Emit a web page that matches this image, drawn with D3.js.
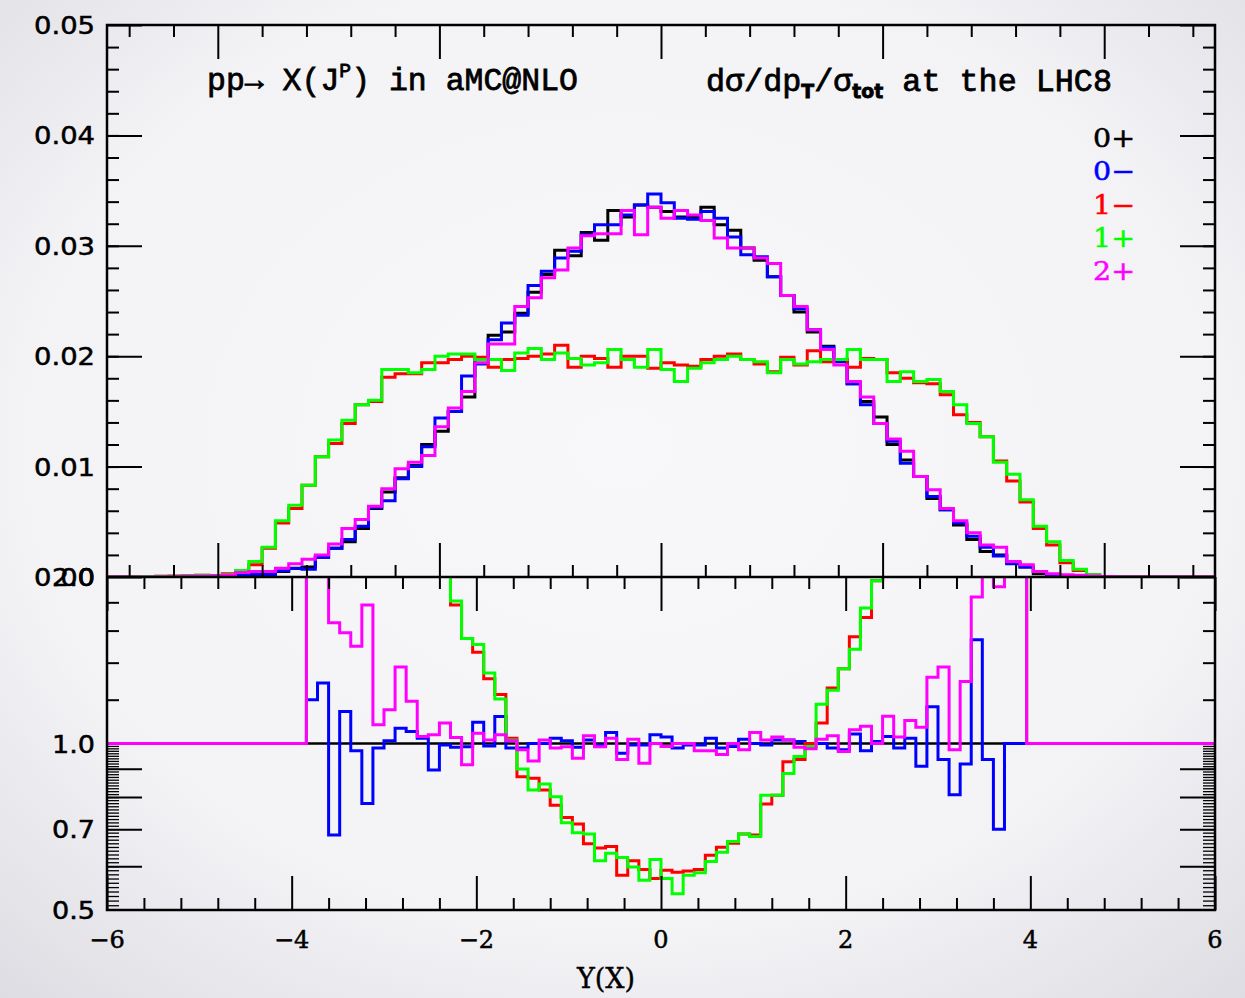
<!DOCTYPE html>
<html>
<head>
<meta charset="utf-8">
<script src="https://cdn.jsdelivr.net/npm/d3@7"></script>
<style>
  body { margin: 0; background: #f4f4f6; }
  svg { display: block; }
</style>
</head>
<body>
<div id="graph"></div>
<script>
// 100 bins of width 0.12 from -6 to 6
var binStart = -6, binWidth = 0.12, nBins = 100;

// top panel: dsigma/dpT/sigma_tot per bin
var h0p = [
  0,0,0,0,0,0,0,0,0,0,
  0,0,0.00003,0.00005,0.00008,0.0001,0.0001,0.00012,0.00015,0.0002,
  0.0003,0.0005,0.0008,0.0009,0.0018,0.0026,0.0032,0.0044,0.0062,0.0077,
  0.0090,0.0101,0.0120,0.0132,0.0150,0.0163,0.0197,0.0219,0.0222,0.0239,
  0.0258,0.0274,0.0296,0.0291,0.0312,0.0305,0.0332,0.0326,0.0337,0.0335,
  0.0331,0.0326,0.0326,0.0335,0.0319,0.0314,0.0298,0.0287,0.0272,0.0255,
  0.0240,0.0222,0.0209,0.0197,0.0175,0.0159,0.0145,0.0120,0.0106,0.0091,
  0.0071,0.0061,0.0047,0.0034,0.0023,0.0020,0.0013,0.0009,0.0003,0.0002,
  0.00012,0.00009,0.00006,0.00003,0,0,0,0,0,0,
  0,0,0,0,0,0,0,0,0,0
];
var h0m = [
  0,0,0,0,0,0,0,0,0,0,
  0,0,0.00002,0.00004,0.00006,0.00008,0.0001,0.00012,0.00018,0.00026,
  0.0002,0.00057,0.00078,0.0007,0.0018,0.0026,0.0034,0.0046,0.0063,0.0069,
  0.0089,0.0100,0.0118,0.0144,0.0150,0.0182,0.0193,0.0215,0.0230,0.0237,
  0.0264,0.0277,0.0289,0.0295,0.0310,0.0319,0.0319,0.0328,0.0337,0.0347,
  0.0339,0.0325,0.0324,0.0331,0.0325,0.0308,0.0292,0.0290,0.0272,0.0255,
  0.0243,0.0224,0.0208,0.0195,0.0175,0.0156,0.0139,0.0123,0.0103,0.0091,
  0.0073,0.0061,0.0049,0.0037,0.0027,0.0019,0.0012,0.0009,0.0005,0.0002,
  0.00009,0.00009,0.00005,0.00003,0,0,0,0,0,0,
  0,0,0,0,0,0,0,0,0,0
];
var h1m = [
  0,0,0,0,0,0,0,0,0,0,
  0.00002,0.00004,0.00006,0.0001,0.00012,0.00015,0.0001,0.0003,0.0006,0.0011,
  0.0026,0.0049,0.0062,0.0083,0.0109,0.0121,0.0139,0.0156,0.0159,0.0181,
  0.0184,0.0184,0.0194,0.0194,0.0197,0.0200,0.0199,0.0190,0.0197,0.0198,
  0.0200,0.0202,0.0210,0.0190,0.0200,0.0198,0.0190,0.0200,0.0200,0.0189,
  0.0194,0.0192,0.0191,0.0197,0.0200,0.0202,0.0197,0.0193,0.0186,0.0199,
  0.0192,0.0205,0.0195,0.0197,0.0190,0.0198,0.0197,0.0185,0.0180,0.0176,
  0.0175,0.0165,0.0147,0.0140,0.0127,0.0105,0.0087,0.0068,0.0044,0.0029,
  0.0013,0.0006,0.0002,0.00005,0,0,0,0,0,0,
  0,0,0,0,0,0,0,0,0,0
];
var h1p = [
  0,0,0,0,0,0,0,0,0,0,
  0.00002,0.00004,0.00006,0.0001,0.00012,0.00015,0.0001,0.0002,0.0006,0.0014,
  0.0027,0.0051,0.0065,0.0083,0.0109,0.0124,0.0142,0.0156,0.0160,0.0188,
  0.0188,0.0185,0.0188,0.0200,0.0202,0.0202,0.0197,0.0197,0.0187,0.0203,
  0.0207,0.0197,0.0203,0.0198,0.0192,0.0194,0.0206,0.0197,0.0190,0.0206,
  0.0188,0.0177,0.0189,0.0194,0.0197,0.0200,0.0197,0.0195,0.0185,0.0197,
  0.0193,0.0195,0.0197,0.0197,0.0206,0.0197,0.0197,0.0177,0.0186,0.0177,
  0.0179,0.0168,0.0156,0.0139,0.0127,0.0104,0.0093,0.0070,0.0046,0.0032,
  0.0015,0.0007,0.0002,0.00005,0,0,0,0,0,0,
  0,0,0,0,0,0,0,0,0,0
];
var h2p = [
  0,0,0,0,0,0,0,0,0,0,
  0,0,0.00002,0.00004,0.00006,0.00008,0.0001,0.00015,0.0004,0.0005,
  0.0005,0.0008,0.0012,0.0016,0.0020,0.0030,0.0044,0.0052,0.0064,0.0080,
  0.0098,0.0104,0.0110,0.0136,0.0153,0.0168,0.0194,0.0211,0.0211,0.0245,
  0.0253,0.0271,0.0278,0.0298,0.0309,0.0311,0.0311,0.0332,0.0310,0.0335,
  0.0325,0.0332,0.0328,0.0323,0.0307,0.0298,0.0298,0.0289,0.0284,0.0255,
  0.0245,0.0224,0.0206,0.0192,0.0177,0.0163,0.0139,0.0125,0.0114,0.0091,
  0.0079,0.0062,0.0051,0.0040,0.0029,0.0027,0.0014,0.0011,0.0005,0.0003,
  0.0002,0.00015,0.0001,0.00005,0,0,0,0,0,0,
  0,0,0,0,0,0,0,0,0,0
];

// bottom panel: ratio to 0+ (3 = off scale)
var r0m = [
  1,1,1,1,1,1,1,1,1,1,
  1,1,1,1,1,1,1,1,1.2,1.286,
  0.683,1.143,0.97,0.779,0.981,1.012,1.066,1.051,1.022,0.896,
  0.994,0.985,0.987,1.092,0.99,1.119,0.981,0.981,1.0,1.0,
  1.022,1.012,0.985,1.015,0.994,1.047,0.96,0.994,0.994,1.037,
  1.027,0.981,0.994,0.994,1.022,0.981,0.988,1.018,1.0,0.994,
  1.015,1.015,1.008,1.0,1.0,0.981,0.974,1.04,0.97,1.008,
  1.03,0.981,1.022,0.91,1.165,0.936,0.808,0.918,1.54,0.936,
  0.70,1,1,1,1,1,1,1,1,1,
  1,1,1,1,1,1,1,1,1,1
];
var r1m = [
  1,1,1,1,1,1,1,1,1,1,
  1,1,1,1,1,1,1,1,3,3,
  3,3,3,3,3,3,3,3,3,3,
  3,1.78,1.548,1.462,1.31,1.226,1.022,0.871,0.865,0.824,
  0.773,0.735,0.715,0.659,0.647,0.651,0.578,0.614,0.592,0.57,
  0.59,0.585,0.588,0.592,0.628,0.649,0.66,0.686,0.683,0.777,
  0.806,0.927,0.936,1.0,1.089,1.26,1.365,1.56,1.69,1.97,
  3,3,3,3,3,3,3,3,3,3,
  3,3,3,1,1,1,1,1,1,1,
  1,1,1,1,1,1,1,1,1,1
];
var r1p = [
  1,1,1,1,1,1,1,1,1,1,
  1,1,1,1,1,1,1,1,3,3,
  3,3,3,3,3,3,3,3,3,3,
  3,1.809,1.548,1.51,1.341,1.203,1.015,0.899,0.824,0.845,
  0.801,0.719,0.69,0.686,0.614,0.633,0.622,0.598,0.566,0.617,
  0.57,0.535,0.578,0.584,0.612,0.636,0.665,0.686,0.679,0.806,
  0.806,0.883,0.947,0.988,1.178,1.248,1.365,1.48,1.757,1.97,
  3,3,3,3,3,3,3,3,3,3,
  3,3,3,1,1,1,1,1,1,1,
  1,1,1,1,1,1,1,1,1,1
];
var r2p = [
  1,1,1,1,1,1,1,1,1,1,
  1,1,1,1,1,1,1,1,3,3,
  1.653,1.585,1.499,1.78,1.081,1.151,1.375,1.192,1.03,1.037,
  1.089,1.025,0.915,1.044,1.015,1.037,1.012,0.974,0.93,1.015,
  0.981,0.987,0.94,1.033,0.987,1.022,0.936,1.018,0.921,1.0,
  0.988,1.0,1.0,0.97,0.97,0.955,1.0,0.974,1.047,1.015,
  1.027,1.015,0.985,0.978,1.018,1.033,0.967,1.059,1.074,1.0,
  1.12,1.027,1.1,1.07,1.318,1.375,0.974,1.295,1.84,3,
  1.92,3,3,1,1,1,1,1,1,1,
  1,1,1,1,1,1,1,1,1,1
];

var seriesNames = ["0+", "0\u2212", "1\u2212", "1+", "2+"];
var seriesColors = ["#000000", "#0000ff", "#ff0000", "#00ff00", "#ff00ff"];
var topSeries = [h0p, h0m, h1m, h1p, h2p];
var ratioSeries = [null, r0m, r1m, r1p, r2p];

var yTopTicks = [0, 0.01, 0.02, 0.03, 0.04, 0.05];
var yTopLabels = ["0.00", "0.01", "0.02", "0.03", "0.04", "0.05"];
var yBotTicks = [0.5, 0.7, 1.0, 2.0];
var yBotLabels = ["0.5", "0.7", "1.0", "2.0"];
var xBotTicks = [-6, -4, -2, 0, 2, 4, 6];
var xBotLabels = ["\u22126", "\u22124", "\u22122", "0", "2", "4", "6"];
var xTopMajor = [-4, -2, 0, 2, 4];

var W = 1245, H = 998;
var L = 107, R = 1215, T = 25, M = 577, B = 910;

var svg = d3.select("#graph").append("svg").attr("width", W).attr("height", H);
var defs = svg.append("defs");

var grad = defs.append("radialGradient").attr("id", "bg")
  .attr("cx", "50%").attr("cy", "45%").attr("r", "75%");
grad.append("stop").attr("offset", "0%").attr("stop-color", "#f8f8fa");
grad.append("stop").attr("offset", "65%").attr("stop-color", "#f3f3f6");
grad.append("stop").attr("offset", "100%").attr("stop-color", "#dcdce2");
svg.append("rect").attr("width", W).attr("height", H).attr("fill", "url(#bg)");

defs.append("clipPath").attr("id", "clipTop").append("rect")
  .attr("x", L).attr("y", T).attr("width", R - L).attr("height", M - T);
defs.append("clipPath").attr("id", "clipBot").append("rect")
  .attr("x", L).attr("y", M).attr("width", R - L).attr("height", B - M);

var xTop = d3.scaleLinear().domain([-5, 5]).range([L, R]);
var xBot = d3.scaleLinear().domain([-6, 6]).range([L, R]);
var yTop = d3.scaleLinear().domain([0, 0.05]).range([M, T]);
var yBot = d3.scaleLog().domain([0.5, 2]).range([B, M]);

function steps(vals) {
  var pts = vals.map(function (v, i) { return [binStart + i * binWidth, v]; });
  pts.push([binStart + nBins * binWidth, vals[nBins - 1]]);
  return pts;
}

// ---- histograms
var gTop = svg.append("g").attr("clip-path", "url(#clipTop)");
var lineTop = d3.line().x(function (d) { return xTop(d[0]); })
  .y(function (d) { return yTop(d[1]); }).curve(d3.curveStepAfter);
topSeries.forEach(function (s, i) {
  gTop.append("path").attr("d", lineTop(steps(s)))
    .attr("fill", "none").attr("stroke", seriesColors[i]).attr("stroke-width", 3);
});

var gBot = svg.append("g").attr("clip-path", "url(#clipBot)");
var lineBot = d3.line().x(function (d) { return xBot(d[0]); })
  .y(function (d) { return yBot(d[1]); }).curve(d3.curveStepAfter);
gBot.append("line").attr("x1", xBot(-6)).attr("x2", xBot(6))
  .attr("y1", yBot(1)).attr("y2", yBot(1)).attr("stroke", "#000").attr("stroke-width", 2.5);
ratioSeries.forEach(function (s, i) {
  if (!s) return;
  gBot.append("path").attr("d", lineBot(steps(s)))
    .attr("fill", "none").attr("stroke", seriesColors[i]).attr("stroke-width", 3);
});

// ---- frame and ticks
function ticks(axis, tx, ty, vals, size, sw) {
  var g = svg.append("g").attr("transform", "translate(" + tx + "," + ty + ")")
    .call(axis.tickValues(vals).tickSize(size).tickFormat(""));
  g.select(".domain").remove();
  g.selectAll(".tick line").attr("stroke", "#000").attr("stroke-width", sw || 2);
}
var xTopMinor = d3.range(-4.8, 4.81, 0.4).filter(function (v) { return Math.abs(v / 2 - Math.round(v / 2)) > 0.01; });
var xBotMinor = d3.range(-5.6, 5.61, 0.4).filter(function (v) { return Math.abs(v / 2 - Math.round(v / 2)) > 0.01; });
var yTopMinor = d3.range(0.002, 0.0495, 0.002);
var yBotDense = d3.range(0.51, 0.995, 0.01);
var yBotSmall = [1.2, 1.4, 1.6, 1.8];
var yBotMid = [0.6, 0.7, 0.8, 0.9];

// top panel
ticks(d3.axisTop(xTop), 0, T, xTopMinor, -12);
ticks(d3.axisTop(xTop), 0, T, xTopMajor, -34);
ticks(d3.axisBottom(xTop), 0, M, xTopMinor, -12);
ticks(d3.axisBottom(xTop), 0, M, xTopMajor, -34);
ticks(d3.axisLeft(yTop), L, 0, yTopMinor, -12);
ticks(d3.axisLeft(yTop), L, 0, yTopTicks, -35);
ticks(d3.axisRight(yTop), R, 0, yTopMinor, -12);
ticks(d3.axisRight(yTop), R, 0, yTopTicks, -35);
// bottom panel
ticks(d3.axisTop(xBot), 0, M, xBotMinor, -12);
ticks(d3.axisTop(xBot), 0, M, xBotTicks, -34);
ticks(d3.axisBottom(xBot), 0, B, xBotMinor, -12);
ticks(d3.axisBottom(xBot), 0, B, xBotTicks, -34);
ticks(d3.axisLeft(yBot), L, 0, yBotDense, -12, 1.3);
ticks(d3.axisLeft(yBot), L, 0, yBotSmall, -12);
ticks(d3.axisLeft(yBot), L, 0, yBotMid, -35);
ticks(d3.axisRight(yBot), R, 0, yBotDense, -12, 1.3);
ticks(d3.axisRight(yBot), R, 0, yBotSmall, -12);
ticks(d3.axisRight(yBot), R, 0, yBotMid, -35);

svg.append("rect").attr("x", L).attr("y", T).attr("width", R - L).attr("height", B - T)
  .attr("fill", "none").attr("stroke", "#000").attr("stroke-width", 2.5);
svg.append("line").attr("x1", L).attr("x2", R).attr("y1", M).attr("y2", M)
  .attr("stroke", "#000").attr("stroke-width", 2.5);

// ---- labels
var numFont = "'DejaVu Sans', sans-serif";
var serifFont = "'DejaVu Serif', serif";
var monoFont = "'Liberation Mono', 'Courier New', monospace";

svg.append("g").selectAll("text").data(yTopTicks).join("text")
  .attr("x", 95).attr("y", function (d) { return yTop(d) + 1; })
  .attr("text-anchor", "end").attr("dominant-baseline", "central")
  .attr("textLength", 61).attr("lengthAdjust", "spacingAndGlyphs")
  .attr("stroke", "#000").attr("stroke-width", 0.5)
  .style("font-family", numFont).style("font-size", "24px")
  .text(function (d, i) { return yTopLabels[i]; });
svg.append("g").selectAll("text").data(yBotTicks).join("text")
  .attr("x", 95).attr("y", function (d) { return yBot(d) + 1; })
  .attr("text-anchor", "end").attr("dominant-baseline", "central")
  .attr("textLength", 43).attr("lengthAdjust", "spacingAndGlyphs")
  .attr("stroke", "#000").attr("stroke-width", 0.5)
  .style("font-family", numFont).style("font-size", "24px")
  .text(function (d, i) { return yBotLabels[i]; });

svg.append("g").selectAll("text").data(xBotTicks).join("text")
  .attr("x", function (d) { return xBot(d); }).attr("y", 948)
  .attr("text-anchor", "middle")
  .attr("stroke", "#000").attr("stroke-width", 0.5)
  .style("font-family", serifFont).style("font-size", "24px")
  .text(function (d, i) { return xBotLabels[i]; });

svg.append("text").attr("x", xBot(0) - 55).attr("y", 988).attr("text-anchor", "middle")
  .attr("stroke", "#000").attr("stroke-width", 0.4)
  .style("font-family", serifFont).style("font-size", "27px").text("Y(X)");

var t1 = svg.append("text").attr("x", 207).attr("y", 90)
  .attr("textLength", 371).attr("lengthAdjust", "spacingAndGlyphs")
  .attr("stroke", "#000").attr("stroke-width", 0.8)
  .style("font-family", monoFont).style("font-size", "32px");
t1.append("tspan").text("pp\u2192 X(J");
t1.append("tspan").attr("dy", -13).style("font-size", "20px").text("P");
t1.append("tspan").attr("dy", 13).text(") in aMC@NLO");

var t2 = svg.append("text").attr("x", 706).attr("y", 91)
  .attr("textLength", 406).attr("lengthAdjust", "spacingAndGlyphs")
  .attr("stroke", "#000").attr("stroke-width", 0.8)
  .style("font-family", monoFont).style("font-size", "32px");
t2.append("tspan").text("d\u03c3/dp");
t2.append("tspan").attr("dy", 7).style("font-size", "19px").style("font-family", numFont)
  .style("font-weight", "bold").text("T");
t2.append("tspan").attr("dy", -7).text("/\u03c3");
t2.append("tspan").attr("dy", 7).style("font-size", "19px").style("font-family", numFont)
  .style("font-weight", "bold").text("tot");
t2.append("tspan").attr("dy", -7).text(" at the LHC8");

svg.append("g").selectAll("text").data(seriesNames).join("text")
  .attr("x", 1093).attr("y", function (d, i) { return 147 + i * 33.3; })
  .attr("textLength", 42).attr("lengthAdjust", "spacingAndGlyphs")
  .attr("fill", function (d, i) { return seriesColors[i]; })
  .attr("stroke", function (d, i) { return seriesColors[i]; }).attr("stroke-width", 0.5)
  .style("font-family", serifFont).style("font-size", "26px")
  .text(function (d) { return d; });
</script>
</body>
</html>
